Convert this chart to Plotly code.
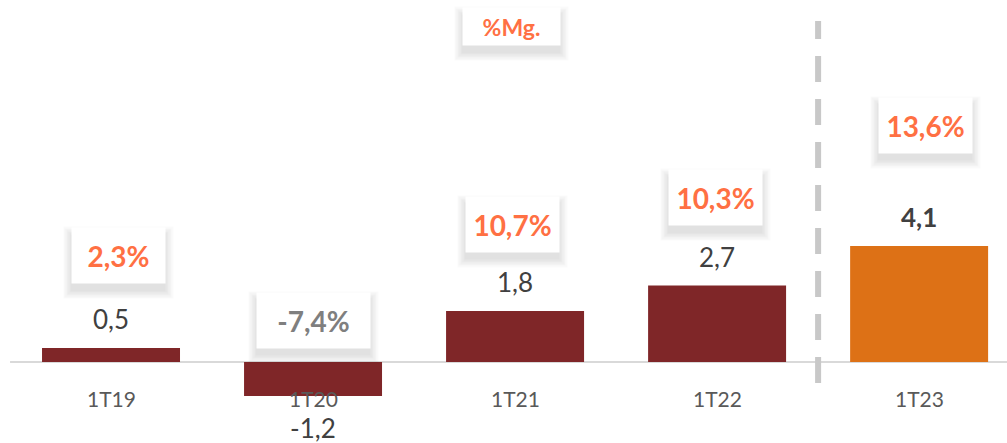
import plotly.graph_objects as go

# data
quarters = ["1T19", "1T20", "1T21", "1T22", "1T23"]
ebitda = [0.5, -1.2, 1.8, 2.7, 4.1]
value_labels = ["0,5", "-1,2", "1,8", "2,7", "4,1"]
margin_labels = ["2,3%", "-7,4%", "10,7%", "10,3%", "13,6%"]

# layout helpers (positions of the margin boxes, in axis units)
box_y = [3.75, 1.48, 4.86, 5.8, 8.37]
box_dx = [0.035, 0.0, -0.015, -0.01, 0.03]
box_w = [93, 113, 93, 93, 93]

DARK_RED = "#7F2628"
ORANGE = "#DD7116"
PCT_ORANGE = "#FF7043"
FONT = "Lato"

xs = list(range(len(quarters)))
colors = [DARK_RED] * (len(quarters) - 1) + [ORANGE]

fig = go.Figure()
fig.add_trace(go.Bar(x=xs, y=ebitda, marker=dict(color=colors, line=dict(width=0)),
                     width=0.683, hoverinfo="skip"))

ann = []
shapes = []

# zero line
shapes.append(dict(type="line", xref="paper", yref="y", x0=0.01, x1=1, y0=0, y1=0,
                   line=dict(color="#D9D9D9", width=2), layer="below"))
# dashed separator
shapes.append(dict(type="line", xref="x", yref="y", x0=3.5, x1=3.5, y0=-0.74, y1=12.05,
                   line=dict(color="#C8C8C8", width=6, dash="26px,17px")))


def shadow_box(x, y, w, h):
    # fake soft shadow: layered translucent boxes offset downward
    for grow in range(16, 0, -3):
        ann.append(dict(x=x, y=y, xref="x", yref="y", text="", showarrow=False,
                        width=w + grow, height=h + grow, bgcolor="rgba(0,0,0,0.018)",
                        yshift=-7, borderpad=0))


for i, q in enumerate(quarters):
    # category label
    ann.append(dict(x=i, y=0, xref="x", yref="y", text=q, showarrow=False,
                    yshift=-36, font=dict(family=FONT, size=21, color="#595959")))
    # value label
    v = ebitda[i]
    bold = i == len(quarters) - 1
    txt = f"<b>{value_labels[i]}</b>" if bold else value_labels[i]
    ann.append(dict(x=i, y=v, xref="x", yref="y", text=txt, showarrow=False,
                    yshift=29 if v >= 0 else -32,
                    font=dict(family=FONT, size=26, color="#404040")))
    # margin box
    col = PCT_ORANGE if not margin_labels[i].startswith("-") else "#7F7F7F"
    shadow_box(i + box_dx[i], box_y[i], box_w[i], 55)
    ann.append(dict(x=i + box_dx[i], y=box_y[i], xref="x", yref="y",
                    text=f"<b>{margin_labels[i]}</b>", showarrow=False,
                    width=box_w[i], height=55, bgcolor="white", borderpad=0,
                    font=dict(family=FONT, size=28, color=col)))

# %Mg. header box
shadow_box(1.98, 11.84, 97, 37)
ann.append(dict(x=1.98, y=11.84, xref="x", yref="y", text="<b>%Mg.</b>", showarrow=False,
                width=97, height=37, bgcolor="white", borderpad=0,
                font=dict(family=FONT, size=23, color=PCT_ORANGE)))

fig.update_layout(
    width=1007, height=443,
    margin=dict(l=0, r=0, t=0, b=0),
    paper_bgcolor="white", plot_bgcolor="white",
    showlegend=False,
    xaxis=dict(range=[-0.5495, 4.435], visible=False, fixedrange=True),
    yaxis=dict(range=[-2.86, 12.79], visible=False, fixedrange=True),
    annotations=ann, shapes=shapes,
)

fig.write_html("out.html", config={"displayModeBar": False},
               post_script="document.body.style.margin='0';")
